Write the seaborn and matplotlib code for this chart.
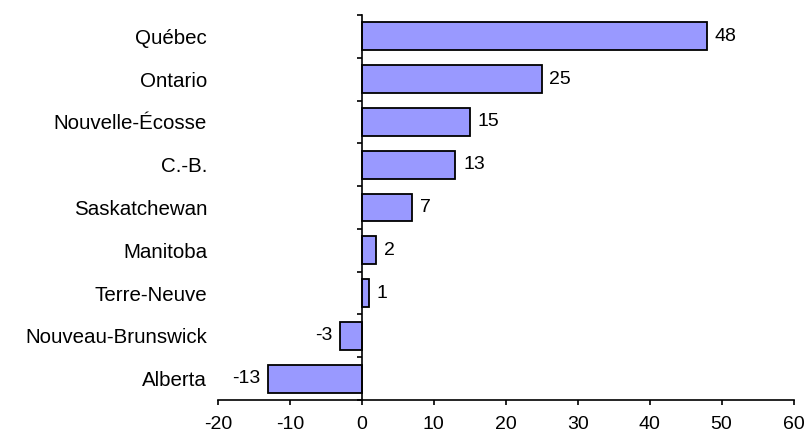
import numpy as np
import pandas as pd
import matplotlib
matplotlib.use("Agg")
import matplotlib.pyplot as plt
import seaborn as sns
from matplotlib.ticker import FixedLocator

provinces = ["Québec", "Ontario", "Nouvelle-Écosse", "C.-B.", "Saskatchewan",
             "Manitoba", "Terre-Neuve", "Nouveau-Brunswick", "Alberta"]
values = [48, 25, 15, 13, 7, 2, 1, -3, -13]
x_ticks = [-20, -10, 0, 10, 20, 30, 40, 50, 60]

df = pd.DataFrame({"province": provinces, "value": values})

sns.set_style("white")
plt.rcParams['font.family'] = ['Liberation Sans', 'DejaVu Sans']
plt.rcParams['axes.unicode_minus'] = False
plt.rcParams['text.color'] = 'black'
plt.rcParams['xtick.color'] = 'black'
plt.rcParams['ytick.color'] = 'black'

fig = plt.figure(figsize=(8.06, 4.41), dpi=100)
ax = fig.add_axes([0.2705, 0.093, 0.714, 0.873])

sns.barplot(data=df, x="value", y="province", orient="h", color="#9999FF",
            saturation=1, edgecolor="black", linewidth=1.3, width=0.65, ax=ax)

ax.set_xlim(-20, 60)
ax.set_ylim(len(provinces) - 0.5, -0.5)
ax.set_xticks(x_ticks)
ax.set_xlabel("")
ax.set_ylabel("")

# vertical axis sits on zero, category names stay at the left
ax.spines['left'].set_position(('data', 0))
ax.spines['top'].set_visible(False)
ax.spines['right'].set_visible(False)
for s in ['left', 'bottom']:
    ax.spines[s].set_color("black")
    ax.spines[s].set_linewidth(1.2)

ax.yaxis.set_minor_locator(FixedLocator(np.arange(-0.5, len(provinces), 1.0)))
ax.tick_params(axis='y', which='major', length=0, pad=111.5, labelsize=14.8,
               labelcolor='black')
ax.tick_params(axis='y', which='minor', left=True, length=3.6, width=1.2,
               direction='out', color="black")
ax.tick_params(axis='x', which='major', bottom=True, length=3.6, width=1.2,
               direction='out', color="black", pad=8, labelsize=14,
               labelcolor='black')

ax.bar_label(ax.containers[0], labels=[str(v) for v in values],
             padding=5.5, fontsize=14, color='black')

fig.savefig("out.png", dpi=100)
